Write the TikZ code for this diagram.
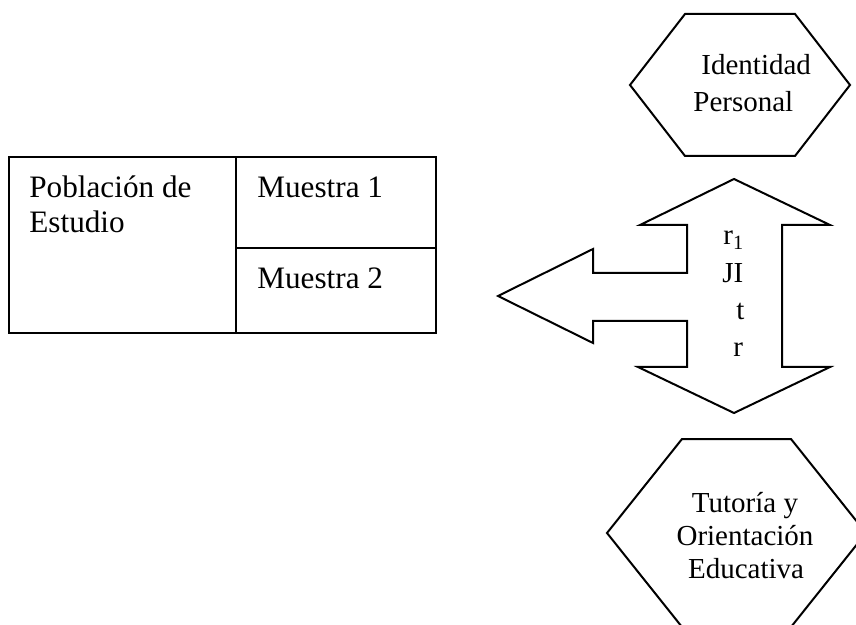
\documentclass[tikz,border=0pt]{standalone}
\usepackage{fontspec}
\setmainfont{Liberation Serif}
\begin{document}
\begin{tikzpicture}[x=0.5pt,y=-0.5pt,
  shp/.style={draw=black, line width=1pt, line join=miter},
  lbl/.style={anchor=base west, inner sep=0pt, font=\fontsize{15.6}{18}\selectfont},
  slbl/.style={anchor=base west, inner sep=0pt, font=\fontsize{14.5}{17}\selectfont},
  clbl/.style={anchor=base, inner sep=0pt, font=\fontsize{14.5}{17}\selectfont}]
\useasboundingbox (0,0) rectangle (856,625);
\clip (0,0) rectangle (856,625);
% table
\draw[shp] (9,157) rectangle (436,333);
\draw[shp] (236,157) -- (236,333);
\draw[shp] (236,248) -- (436,248);
\node[lbl] (pob1) at (29,198) {Población de};
\node[lbl] (pob2) at (29,233) {Estudio};
\node[lbl] (m1) at (257,198) {Muestra 1};
\node[lbl] (m2) at (257,289) {Muestra 2};
% top hexagon
\draw[shp] (630,85) -- (685,14) -- (795,14) -- (850,85) -- (795,156) -- (685,156) -- cycle;
\node[slbl] (id1) at (701,75) {Identidad};
\node[slbl] (id2) at (693,112) {Personal};
% bottom hexagon
\draw[shp] (607,533) -- (682,439) -- (791,439) -- (866,533) -- (791,627) -- (682,627) -- cycle;
\node[clbl] (tu1) at (745,512) {Tutoría y};
\node[clbl] (tu2) at (745,545) {Orientación};
\node[clbl] (tu3) at (746,578) {Educativa};
% arrow shape
\draw[shp] (734,179) -- (830,225) -- (782,225) -- (782,367) -- (830,367) -- (734,413)
  -- (638,367) -- (687,367) -- (687,321) -- (593,321) -- (593,343) -- (498,296)
  -- (593,249) -- (593,273) -- (687,273) -- (687,225) -- (640,225) -- cycle;
\node[slbl] (s1) at (723,245) {r\textsubscript{1}};
\node[slbl] (s2) at (722,283) {JI};
\node[slbl] (s3) at (736,320) {t};
\node[slbl] (s4) at (733,357) {r};
\end{tikzpicture}
\end{document}
